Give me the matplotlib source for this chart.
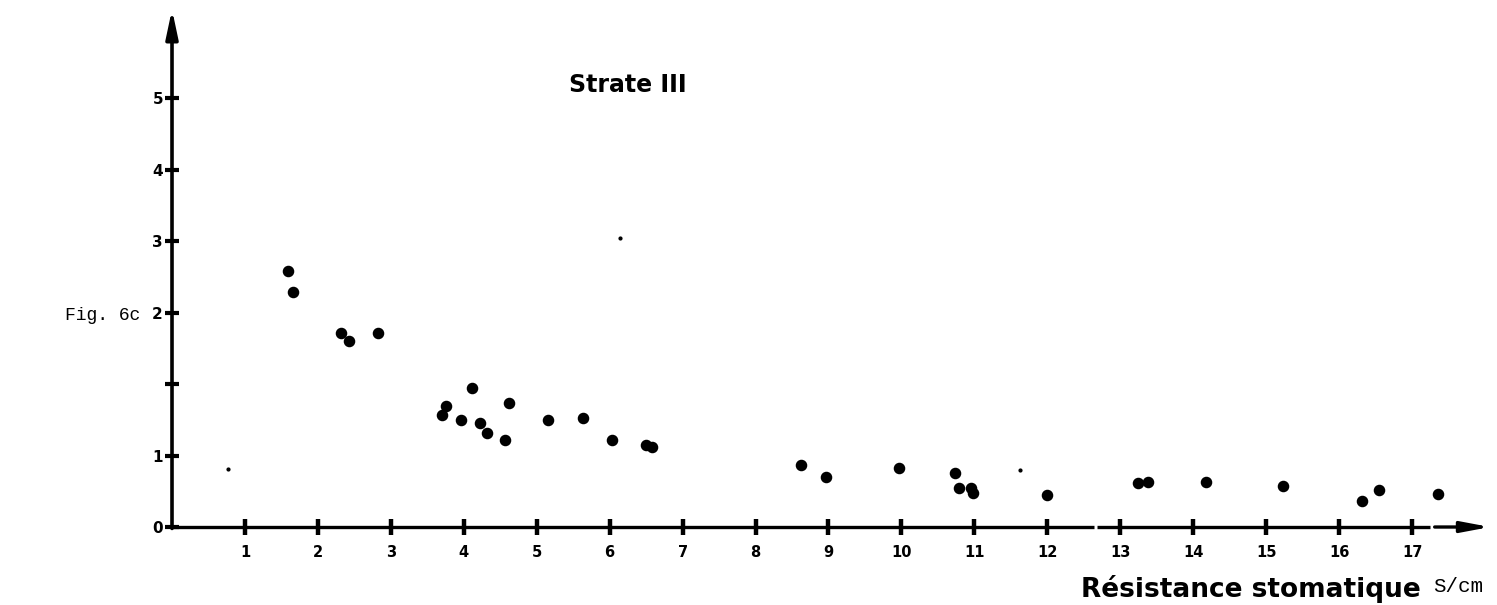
import matplotlib.pyplot as plt

# Strate III : resistance stomatique (s/cm) vs valeurs
resistance = [1.59, 1.66, 2.32, 2.43, 2.82, 3.70, 3.76, 3.96, 4.11, 4.22,
              4.32, 4.57, 4.62, 5.15, 5.63, 6.03, 6.50, 6.58, 8.62, 8.97,
              9.97, 10.73, 10.79, 10.95, 10.98, 12.00, 13.24, 13.38, 14.18,
              15.23, 16.31, 16.55, 17.36]
strate3 = [3.58, 3.29, 2.71, 2.60, 2.71, 1.57, 1.69, 1.50, 1.94, 1.45,
           1.31, 1.22, 1.73, 1.50, 1.52, 1.22, 1.15, 1.12, 0.87, 0.70,
           0.83, 0.76, 0.55, 0.55, 0.48, 0.45, 0.62, 0.63, 0.63,
           0.57, 0.36, 0.52, 0.46]

# petites taches du scan
specks_x = [0.77, 11.63, 6.14]
specks_y = [0.81, 0.80, 4.04]

xticks = list(range(1, 18))
xtick_labels = [str(i) for i in xticks]
ytick_pos = [0, 1, 2, 3, 4, 5, 6]
ytick_labels = ['0', '1', '', '2', '3', '4', '5']

fig = plt.figure(figsize=(14.97, 6.05), dpi=100)
ax = fig.add_axes([0.1149, 0.1289, 0.8722, 0.8509])
ax.set_xlim(0, 17.9)
ax.set_ylim(0, 7.2)

for s in ax.spines.values():
    s.set_visible(False)

ax.plot(resistance, strate3, 'o', color='black', ms=7.3, clip_on=False)
ax.plot(specks_x, specks_y, 'o', color='black', ms=2, clip_on=False)

# axes with arrows
ax.plot([0, 12.64], [0, 0], color='black', lw=2.4, clip_on=False, solid_capstyle='butt')
ax.plot([12.68, 17.24], [0, 0], color='black', lw=2.4, clip_on=False, solid_capstyle='butt')
ax.annotate('', xy=(18.07, 0), xytext=(17.31, 0),
            arrowprops=dict(arrowstyle='-|>,head_length=0.85,head_width=0.16',
                            lw=2.4, color='black', mutation_scale=20,
                            shrinkA=0, shrinkB=0), annotation_clip=False)
ax.annotate('', xy=(0, 7.24), xytext=(0, -0.02),
            arrowprops=dict(arrowstyle='-|>,head_length=0.85,head_width=0.18',
                            lw=2.6, color='black', mutation_scale=20,
                            shrinkA=0, shrinkB=0), annotation_clip=False)

ax.set_xticks(xticks)
ax.set_xticklabels(xtick_labels, fontweight='bold', fontsize=10.5)
ax.set_yticks(ytick_pos)
ax.set_yticklabels(ytick_labels, fontweight='bold', fontsize=11)
ax.tick_params(axis='x', direction='inout', length=11, width=3.2, pad=7.5)
ax.tick_params(axis='y', direction='inout', length=10, width=3, pad=1.5)

fig.text(628 / 1497, 1 - 85 / 605, 'Strate III', ha='center', va='center',
         fontweight='bold', fontsize=17)
fig.text(65 / 1497, 1 - 315 / 605, 'Fig. 6c', ha='left', va='center',
         family='Liberation Mono', fontsize=13)
fig.text(1081 / 1497, 1 - 597 / 605, 'Résistance stomatique', ha='left',
         va='baseline', fontweight='bold', fontsize=19)
fig.text(1433 / 1497, 1 - 592 / 605, 'S/cm', ha='left', va='baseline',
         family='Liberation Mono', fontsize=15)

fig.savefig('out.png', dpi=100)
